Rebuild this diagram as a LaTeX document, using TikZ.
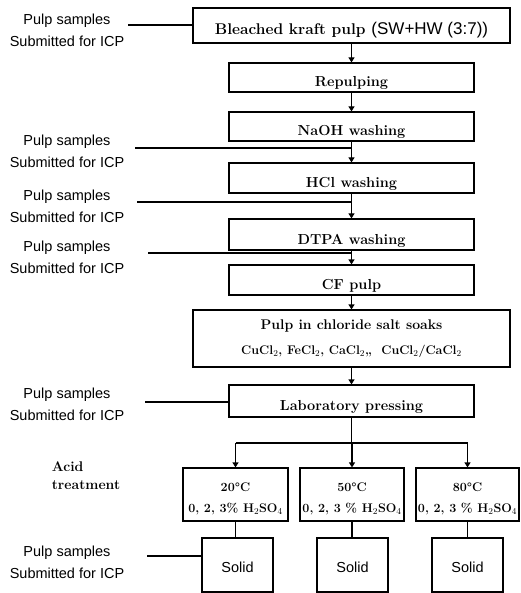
\documentclass[tikz,border=0pt]{standalone}
\usepackage{fontspec}
\setsansfont{Liberation Sans}
\usepackage{tikz}
\usetikzlibrary{arrows.meta,calc,positioning}

\tikzset{
  stepbox/.style={draw, line width=1.2pt, minimum width=245pt, minimum height=30pt, inner ysep=1pt,
    text height=21pt, text depth=2pt, font=\bfseries\fontsize{14.5}{17}\selectfont},
  widebox/.style={stepbox, minimum width=317pt},
  soakbox/.style={draw, line width=1.2pt, minimum width=317pt, minimum height=57pt, align=center,
    font=\bfseries\fontsize{14}{25}\selectfont},
  acidbox/.style={draw, line width=1.2pt, minimum height=53pt, inner sep=1pt, align=center,
    font=\bfseries\fontsize{12.5}{21}\selectfont},
  solidbox/.style={draw, line width=1.2pt, minimum width=71pt, minimum height=54pt,
    text height=14pt, text depth=0pt, font=\sffamily\fontsize{14.5}{17}\selectfont},
  sample/.style={align=center, font=\sffamily\fontsize{14.5}{22}\selectfont},
  flow/.style={line width=1.2pt, -{Triangle[length=5pt,width=6pt]}},
  link/.style={line width=1.2pt}
}

\begin{document}
\begin{tikzpicture}[x=1pt, y=-1pt]
\useasboundingbox (0,0) rectangle (520,593);
% main column
\node[widebox, minimum height=35pt, font=\bfseries\fontsize{15.5}{17}\selectfont] (bleach) at (351.5,25.5) {Bleached kraft pulp {\mdseries\sffamily\fontsize{17}{17}\selectfont (SW+HW (3:7))}};
\node[stepbox, minimum height=29pt] (repulp) at (351.5,77.5) {Repulping};
\node[stepbox, minimum height=29pt] (naoh) at (351.5,126.5) {NaOH washing};
\node[stepbox] (hcl) at (351.5,178) {HCl washing};
\node[stepbox, minimum height=31pt] (dtpa) at (351.5,234.5) {DTPA washing};
\node[stepbox] (cfpulp) at (351.5,280) {CF pulp};
\node[soakbox] (soak) at (351.5,338.5) {Pulp in chloride salt soaks\\{\fontsize{12.5}{25}\selectfont CuCl$_2$, FeCl$_2$, CaCl$_2$,,\ \ CuCl$_2$/CaCl$_2$}};
\node[stepbox, minimum height=32pt] (press) at (351.5,401) {Laboratory pressing};
\foreach \a/\b in {bleach/repulp, repulp/naoh, naoh/hcl, hcl/dtpa, dtpa/cfpulp, cfpulp/soak, soak/press}
  \draw[flow] (\a.south) -- (\b.north);

% acid treatment
\node[align=left, font=\bfseries\fontsize{14}{18}\selectfont] (acidlbl) at (86,476) {Acid\\treatment};
\node[acidbox, minimum width=105pt] (acid20) at (235.5,494.5) {\rule{0pt}{17pt}20°C\\0, 2, 3\% H$_2$SO$_4$};
\node[acidbox, minimum width=104pt] (acid50) at (352,494.5) {\rule{0pt}{17pt}50°C\\0, 2, 3 \% H$_2$SO$_4$};
\node[acidbox, minimum width=103pt] (acid80) at (467.5,494.5) {\rule{0pt}{17pt}80°C\\0, 2, 3 \% H$_2$SO$_4$};
\coordinate (fork) at (351.5,443);
\draw[link] (press.south) -- (fork);
\draw[link] (fork -| acid20.north) -- (fork -| acid80.north);
\node[solidbox] (solid20) at (237.5,565) {Solid};
\node[solidbox] (solid50) at (352.5,565) {Solid};
\node[solidbox] (solid80) at (467.5,565) {Solid};
\foreach \t in {20,50,80}{
  \draw[flow] (fork -| acid\t.north) -- (acid\t.north);
  \draw[link] (acid\t.south) -- (acid\t.south |- solid\t.north);
}

% samples for ICP
\foreach \n/\y in {1/30, 2/151, 3/206, 4/257.5, 5/404, 6/562.5}
  \node[sample] (sample\n) at (67,\y) {Pulp samples\\Submitted for ICP};
\coordinate (tap1) at (128,25);
\coordinate (tap2) at (135,148);
\coordinate (tap3) at (137,202);
\coordinate (tap4) at (148,253);
\coordinate (tap5) at (145,402);
\coordinate (tap6) at (147,556);
\draw[link] (tap1) -- (tap1 -| bleach.west);
\draw[link] (tap2) -- (tap2 -| naoh.south);
\draw[link] (tap3) -- (tap3 -| hcl.south);
\draw[link] (tap4) -- (tap4 -| dtpa.south);
\draw[link] (tap5) -- (tap5 -| press.west);
\draw[link] (tap6) -- (tap6 -| solid20.west);
\end{tikzpicture}
\end{document}
